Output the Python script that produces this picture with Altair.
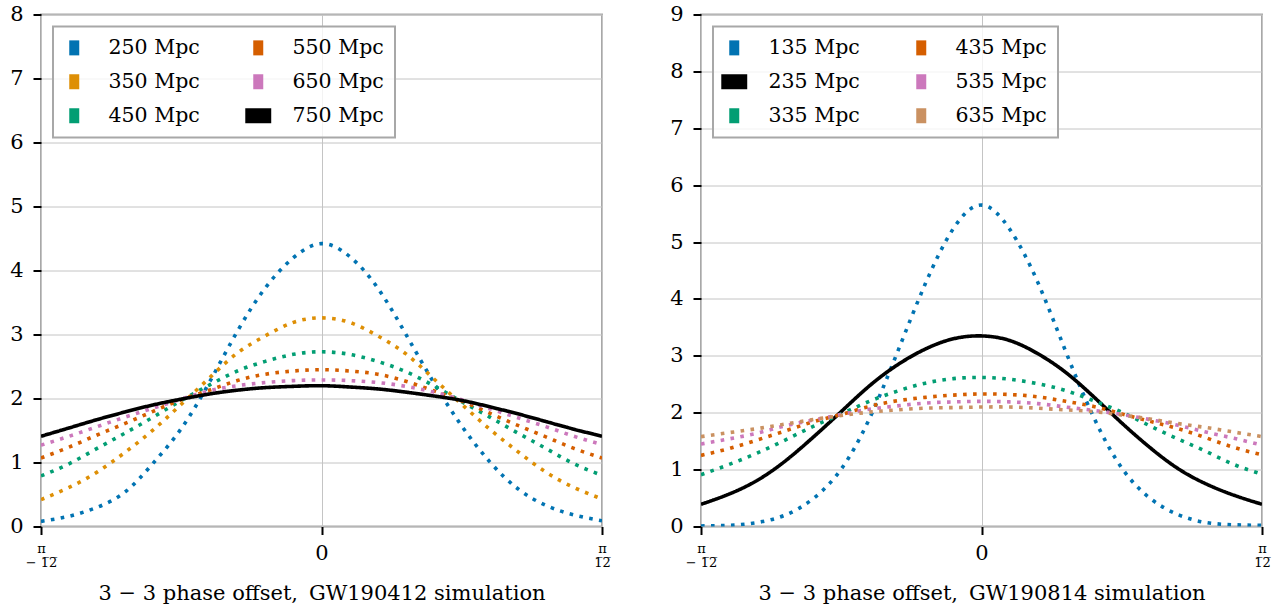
import math
import altair as alt
import pandas as pd

FONT = "DejaVu Serif"
PI12 = math.pi / 12

# x positions as fraction of pi/12
t_frac = [-1.0, -0.9, -0.8, -0.7, -0.6, -0.5, -0.4, -0.3, -0.2, -0.1, 0.0,
          0.1, 0.2, 0.3, 0.4, 0.5, 0.6, 0.7, 0.8, 0.9, 1.0]

# ---- GW190412 panel ----
names_a = ["250 Mpc", "350 Mpc", "450 Mpc", "550 Mpc", "650 Mpc", "750 Mpc"]
a_250 = [0.08, 0.16, 0.30, 0.54, 0.99, 1.53, 2.25, 3.05, 3.73, 4.20, 4.42,
         4.22, 3.73, 3.01, 2.25, 1.57, 1.01, 0.59, 0.33, 0.18, 0.09]
a_350 = [0.42, 0.61, 0.85, 1.16, 1.51, 1.91, 2.32, 2.71, 2.98, 3.19, 3.26,
         3.19, 2.98, 2.70, 2.31, 1.91, 1.52, 1.17, 0.85, 0.61, 0.43]
a_450 = [0.79, 0.98, 1.22, 1.46, 1.71, 1.97, 2.21, 2.43, 2.58, 2.69, 2.73,
         2.69, 2.58, 2.42, 2.20, 1.95, 1.71, 1.46, 1.22, 0.98, 0.80]
a_550 = [1.07, 1.24, 1.43, 1.61, 1.80, 1.98, 2.13, 2.28, 2.38, 2.43, 2.45,
         2.43, 2.38, 2.27, 2.12, 1.96, 1.77, 1.58, 1.40, 1.22, 1.07]
a_650 = [1.27, 1.41, 1.56, 1.71, 1.85, 1.99, 2.12, 2.20, 2.25, 2.28, 2.29,
         2.28, 2.25, 2.19, 2.10, 1.98, 1.84, 1.70, 1.56, 1.41, 1.28]
a_750 = [1.41, 1.54, 1.67, 1.79, 1.90, 1.99, 2.07, 2.13, 2.17, 2.19, 2.20,
         2.18, 2.15, 2.10, 2.04, 1.97, 1.87, 1.76, 1.64, 1.52, 1.41]
series_a = [a_250, a_350, a_450, a_550, a_650, a_750]
solid_a = ["750 Mpc"]

# ---- GW190814 panel ----
names_b = ["135 Mpc", "235 Mpc", "335 Mpc", "435 Mpc", "535 Mpc", "635 Mpc"]
b_135 = [0.01, 0.02, 0.07, 0.20, 0.49, 1.01, 1.89, 3.06, 4.27, 5.24, 5.65,
         5.23, 4.30, 3.08, 1.92, 1.03, 0.50, 0.21, 0.07, 0.03, 0.02]
b_235 = [0.39, 0.57, 0.81, 1.15, 1.57, 2.02, 2.47, 2.84, 3.12, 3.30, 3.35,
         3.27, 3.04, 2.71, 2.28, 1.82, 1.39, 1.02, 0.75, 0.55, 0.39]
b_335 = [0.91, 1.09, 1.29, 1.52, 1.76, 1.98, 2.20, 2.38, 2.52, 2.60, 2.62,
         2.59, 2.51, 2.39, 2.21, 2.01, 1.77, 1.54, 1.32, 1.09, 0.92]
b_435 = [1.25, 1.37, 1.52, 1.68, 1.84, 1.97, 2.11, 2.21, 2.27, 2.31, 2.33,
         2.32, 2.28, 2.20, 2.11, 1.98, 1.85, 1.72, 1.56, 1.39, 1.26]
b_535 = [1.45, 1.54, 1.64, 1.77, 1.87, 1.97, 2.06, 2.12, 2.17, 2.19, 2.20,
         2.19, 2.16, 2.10, 2.04, 1.97, 1.88, 1.78, 1.66, 1.55, 1.43]
b_635 = [1.58, 1.65, 1.72, 1.80, 1.88, 1.95, 2.01, 2.05, 2.08, 2.09, 2.10,
         2.10, 2.08, 2.05, 2.02, 1.96, 1.89, 1.81, 1.74, 1.66, 1.58]
series_b = [b_135, b_235, b_335, b_435, b_535, b_635]
solid_b = ["235 Mpc"]

colors_a = ["#0173b2", "#de8f05", "#029e73", "#d55e00", "#cc78bc", "#000000"]
colors_b = ["#0173b2", "#000000", "#029e73", "#d55e00", "#cc78bc", "#ca9161"]

DOT = [3.6, 6.4]
SOLID = [1, 0]
SHAPE_DOT = "M-0.667,-1H0.667V1H-0.667Z"
SHAPE_SOLID = "M-1.73,-1H1.73V1H-1.73Z"

OL = "\u0305"
TWELVE = "1" + OL + "2" + OL


def make_df(names, series):
    rows = []
    for k, (name, vals) in enumerate(zip(names, series)):
        for tf, v in zip(t_frac, vals):
            rows.append({"series": name, "k": k, "x": tf * PI12, "y": v})
    return pd.DataFrame(rows)


def panel(names, series, colors, solid, ymax, title, col_pad):
    df = make_df(names, series)
    # Vega fills a multi-column legend column by column
    dom = list(names)
    shape_rng = [SHAPE_SOLID if n in solid else SHAPE_DOT for n in dom]
    k_dom = list(range(len(names)))
    k_dash = [SOLID if n in solid else DOT for n in names]

    label_expr = ("datum.value > 0.01 ? ['\u03c0', '" + TWELVE + "'] : "
                  "(datum.value < -0.01 ? ['\u2002\u2009\u03c0', '\u2212 " + TWELVE + "'] : '0')")
    xaxis = alt.Axis(
        values=[-PI12, 0, PI12],
        title=title,
        titleFont=FONT, titleFontSize=21, titleFontWeight="normal", titleColor="black",
        titlePadding=13,
        labelExpr=label_expr,
        labelFont=FONT,
        labelFontSize={"condition": {"test": "abs(datum.value) < 0.01", "value": 21}, "value": 13},
        labelColor="black", labelBaseline="top", labelLineHeight=14, labelPadding=8,
        labelFlush=False, labelOverlap=False,
        grid=True, gridColor="#c4c4c4", gridWidth=1,
        domain=False, ticks=True, tickColor="black", tickWidth=2, tickSize=8,
    )
    yaxis = alt.Axis(
        values=list(range(0, ymax + 1)), title=None, format="d",
        labelFont=FONT, labelFontSize=21, labelColor="black", labelPadding=10,
        grid=True, gridColor="#c4c4c4", gridWidth=1,
        domain=False, ticks=True, tickColor="black", tickWidth=2, tickSize=8,
    )
    xs = alt.Scale(domain=[-PI12, PI12], nice=False, zero=False)
    ys = alt.Scale(domain=[0, ymax], nice=False, zero=True)
    cs = alt.Scale(domain=dom, range=list(colors))

    legend = alt.Legend(
        title=None, orient="top-left", offset=12, columns=2,
        columnPadding=col_pad, rowPadding=13, padding=11,
        labelFont=FONT, labelFontSize=20.5, labelColor="black", labelOffset=24,
        labelLimit=400, symbolSize=225, symbolStrokeWidth=0, symbolOpacity=1,
        strokeColor="#a8a8a8", fillColor="rgba(255,255,255,0.8)", cornerRadius=0,
    )

    base = alt.Chart(df)
    lines = base.mark_line(strokeWidth=3.6, strokeCap="butt", interpolate="natural", clip=True).encode(
        x=alt.X("x:Q", scale=xs, axis=xaxis),
        y=alt.Y("y:Q", scale=ys, axis=yaxis),
        stroke=alt.Stroke("k:N", scale=alt.Scale(domain=k_dom, range=list(colors)), legend=None),
        strokeDash=alt.StrokeDash("k:N", scale=alt.Scale(domain=k_dom, range=k_dash), legend=None),
    )
    leg = base.mark_point(filled=True, size=225, opacity=1).encode(
        x=alt.X("x:Q", scale=xs),
        y=alt.Y("y:Q", scale=ys),
        color=alt.Color("series:N", scale=cs, legend=legend),
        shape=alt.Shape("series:N", scale=alt.Scale(domain=dom, range=shape_rng), legend=legend),
    ).transform_filter("false")
    return alt.layer(lines, leg).properties(width=561, height=512)


left = panel(names_a, series_a, colors_a, solid_a, 8,
             "3 \u2212 3 phase offset, \u2009GW190412 simulation", 45)
right = panel(names_b, series_b, colors_b, solid_b, 9,
              "3 \u2212 3 phase offset, \u2009GW190814 simulation", 51)

chart = alt.hconcat(left, right, spacing=56).resolve_scale(
    color="independent", shape="independent", strokeDash="independent", stroke="independent"
).resolve_legend(color="independent", shape="independent").configure(
    padding={"left": 8, "top": 2.5, "right": 4, "bottom": 2},
    background="white",
).configure_view(
    stroke="#a8a8a8", strokeWidth=2
).configure_legend(strokeWidth=2)

chart.save("out.html", embed_options={"renderer": "svg", "actions": False})
